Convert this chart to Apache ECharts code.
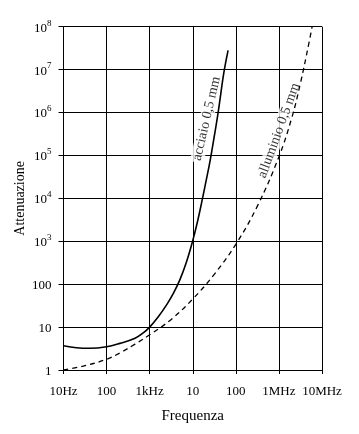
<!DOCTYPE html>
<html>
<head>
<meta charset="utf-8">
<script src="https://cdn.jsdelivr.net/npm/echarts@6/dist/echarts.min.js"></script>
<style>
html,body{margin:0;padding:0;background:#fff;}
#chart{width:359px;height:434px;}
</style>
</head>
<body>
<div id="chart"></div>
<script>
// Tick labels
const freqTickLabels = ['10Hz', '100', '1kHz', '10', '100', '1MHz', '10MHz'];
const attTickLabels = ['1', '10', '100', '10^3', '10^4', '10^5', '10^6', '10^7', '10^8'];

// Steel 0.5 mm (solid)
const steelFreq = [10, 20, 40, 100, 204, 457, 708, 1000, 1585, 2512, 3548, 5012, 7080, 10000, 12590, 15850, 19950, 25120, 31620, 38020, 44670, 52480, 66070];
const steelAtt  = [3.67, 3.31, 3.2, 3.47, 4.17, 5.5, 7.3, 10, 17.4, 33.9, 61, 126, 320, 1035, 2600, 7400, 22900, 72400, 2.8e5, 8.7e5, 2.7e6, 8.3e6, 2.8e7];

// Aluminium 0.5 mm (dashed)
const aluFreq = [10, 31.6, 100, 204, 457, 1000, 3162, 10000, 31620, 1e5, 316200, 1e6, 2e6, 3.16e6, 5.01e6, 5.89e6];
const aluAtt  = [1.0, 1.26, 1.78, 2.5, 4.0, 6.6, 15.1, 45, 170, 850, 6600, 93300, 7.7e5, 4.84e6, 4.3e7, 1e8];

// Curve labels (text, anchor frequency, anchor attenuation, rotation)
const curveLabels = [
  ['acciaio 0,5 mm', 21000, 7.2e5, 77],
  ['alluminio 0,5 mm', 1.0e6, 3.8e5, 70]
];

const FONT = 'Liberation Serif';
const zip = (a, b) => a.map((v, i) => [v, b[i]]);

const chart = echarts.init(document.getElementById('chart'), null, {renderer: 'canvas'});

const labelSeries = curveLabels.map(l => ({
  type: 'scatter',
  symbolSize: 0,
  silent: true,
  z: 1,
  data: [[l[1], l[2]]],
  label: {
    show: true,
    position: 'inside',
    formatter: l[0],
    rotate: l[3],
    color: '#000',
    fontFamily: FONT,
    fontSize: 14,
    backgroundColor: '#fff',
    padding: [0, 2, 0, 2]
  }
}));

chart.setOption({
  backgroundColor: '#fff',
  animation: false,
  grid: {left: 63.5, right: 37, top: 26.7, bottom: 64},
  xAxis: {
    type: 'log',
    logBase: 10,
    min: 10,
    max: 1e7,
    name: 'Frequenza',
    nameLocation: 'middle',
    nameGap: 39,
    nameMoveOverlap: false,
    nameTextStyle: {fontFamily: FONT, fontSize: 15, color: '#000'},
    axisLine: {lineStyle: {color: '#000', width: 1}},
    axisTick: {show: true, length: 4, lineStyle: {color: '#000'}},
    minorTick: {show: false},
    splitLine: {show: true, lineStyle: {color: '#000', width: 1}},
    axisLabel: {
      margin: 15,
      color: '#000',
      fontFamily: FONT,
      fontSize: 13,
      formatter: v => freqTickLabels[Math.round(Math.log10(v)) - 1] || ''
    }
  },
  yAxis: {
    type: 'log',
    logBase: 10,
    min: 1,
    max: 1e8,
    name: 'Attenuazione',
    nameLocation: 'middle',
    nameGap: 36,
    nameMoveOverlap: false,
    nameRotate: 90,
    nameTextStyle: {fontFamily: FONT, fontSize: 14, color: '#000'},
    axisLine: {lineStyle: {color: '#000', width: 1}},
    axisTick: {show: true, length: 5, lineStyle: {color: '#000'}},
    splitLine: {show: true, lineStyle: {color: '#000', width: 1}},
    axisLabel: {
      margin: 12,
      color: '#000',
      fontFamily: FONT,
      fontSize: 13,
      formatter: v => {
        const t = attTickLabels[Math.round(Math.log10(v))] || '';
        if (t.indexOf('^') >= 0) {
          const p = t.split('^');
          return '{b|' + p[0] + '}{s|' + p[1] + '}';
        }
        return '{b|' + t + '}';
      },
      rich: {
        b: {fontFamily: FONT, fontSize: 13, color: '#000', lineHeight: 16, verticalAlign: 'bottom'},
        s: {fontFamily: FONT, fontSize: 9, color: '#000', lineHeight: 16, verticalAlign: 'top', padding: [0, 0, 6, 0]}
      }
    }
  },
  series: labelSeries.concat([
    {
      type: 'line',
      name: 'acciaio 0,5 mm',
      data: zip(steelFreq, steelAtt),
      showSymbol: false,
      smooth: 0.4,
      z: 3,
      lineStyle: {color: '#000', width: 1.6, type: 'solid'}
    },
    {
      type: 'line',
      name: 'alluminio 0,5 mm',
      data: zip(aluFreq, aluAtt),
      showSymbol: false,
      smooth: 0.4,
      z: 3,
      lineStyle: {color: '#000', width: 1.3, type: [5, 4]}
    }
  ])
});
</script>
</body>
</html>
